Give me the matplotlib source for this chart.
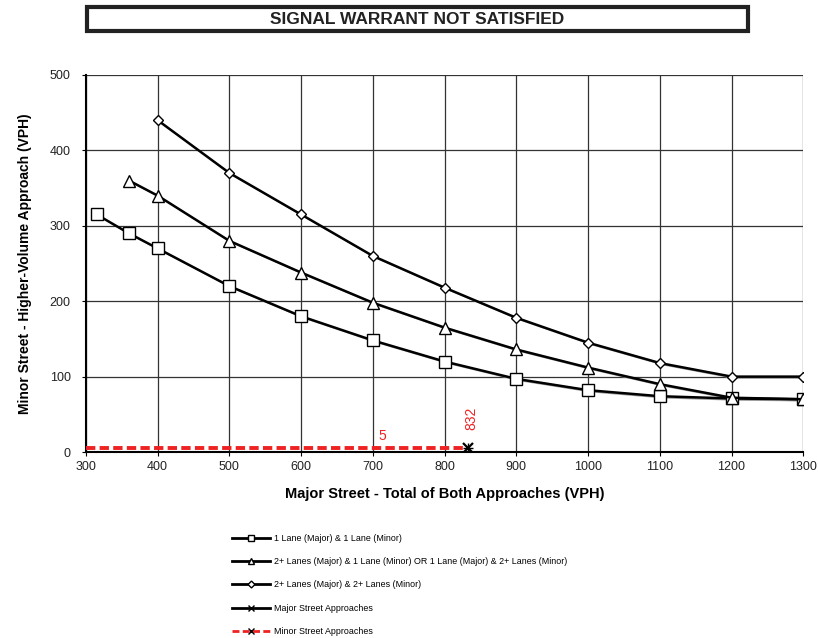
import matplotlib
matplotlib.use("Agg")
import matplotlib.pyplot as plt
from matplotlib.patches import Rectangle
from matplotlib.lines import Line2D

plt.rcParams["font.family"] = ["Liberation Sans", "DejaVu Sans"]

# Warrant curves (major street total vs minor street higher-volume approach)
one_one_x = [315, 360, 400, 500, 600, 700, 800, 900, 1000, 1100, 1200, 1300]
one_one_y = [315, 290, 270, 220, 180, 148, 120, 97, 82, 74, 71, 70]

two_one_x = [360, 400, 500, 600, 700, 800, 900, 1000, 1100, 1200, 1300]
two_one_y = [360, 340, 280, 238, 198, 165, 136, 112, 90, 72, 70]

two_two_x = [400, 500, 600, 700, 800, 900, 1000, 1100, 1200, 1300]
two_two_y = [440, 370, 315, 260, 218, 178, 145, 118, 100, 100]

# Observed approach volumes
major_vph = 832
minor_vph = 5
minor_line_x = [300, 832]
minor_line_y = [5, 5]

labels = [
    "1 Lane (Major) & 1 Lane (Minor)",
    "2+ Lanes (Major) & 1 Lane (Minor) OR 1 Lane (Major) & 2+ Lanes (Minor)",
    "2+ Lanes (Major) & 2+ Lanes (Minor)",
    "Major Street Approaches",
    "Minor Street Approaches",
]

fig = plt.figure(figsize=(8.18, 6.38), dpi=100)
ax = fig.add_axes([0.105, 0.2915, 0.877, 0.591])

curves = [
    (one_one_x, one_one_y, "s", 8),
    (two_one_x, two_one_y, "^", 8),
    (two_two_x, two_two_y, "D", 5.5),
]
for xs, ys, mk, ms in curves:
    # light shadow line to mimic the doubled Excel stroke
    ax.plot([x + 3 for x in xs], [y - 2 for y in ys], color="#9a9a9a", lw=1.0, zorder=2)
    ax.plot(xs, ys, color="black", lw=1.8, marker=mk, ms=ms,
            mfc="white", mec="black", mew=1.0, zorder=3)

ax.plot(minor_line_x, minor_line_y, color="#ee2222", lw=2.8, ls=(0, (2.4, 1.1)), zorder=4)
ax.plot([major_vph], [minor_vph], marker="x", color="black", ms=7, mew=1.6, zorder=5)
ax.plot([major_vph], [minor_vph], marker="+", color="black", ms=7, mew=1.0, zorder=5)

ax.text(713, 21, str(minor_vph), color="#ee2222", fontsize=10, ha="center", va="center")
ax.text(838, 45, str(major_vph), color="#ee2222", fontsize=10, ha="center", va="center",
        rotation=90)

ax.set_xlim(300, 1300)
ax.set_ylim(0, 500)
ax.set_xticks(range(300, 1301, 100))
ax.set_yticks(range(0, 501, 100))
ax.grid(True, color="#333333", lw=0.9)
ax.set_axisbelow(True)
for s in ["top", "right"]:
    ax.spines[s].set_visible(False)
for s in ["left", "bottom"]:
    ax.spines[s].set_linewidth(1.5)
ax.tick_params(axis="both", labelsize=9, length=3, colors="black", labelcolor="#222222")
ax.tick_params(axis="y", pad=8)
ax.set_xlabel("Major Street - Total of Both Approaches (VPH)", fontsize=10.5,
              fontweight="bold", labelpad=10)
ax.set_ylabel("Minor Street - Higher-Volume Approach (VPH)", fontsize=10,
              fontweight="bold", labelpad=13)

# title box
fig.patches.append(Rectangle((0.106, 0.951), 0.808, 0.038, transform=fig.transFigure,
                             fill=False, ec="#222222", lw=3))
fig.text(0.51, 0.970, "SIGNAL WARRANT NOT SATISFIED", ha="center", va="center",
         fontsize=12.5, fontweight="bold", color="#222222")

handles = [
    Line2D([], [], color="black", lw=2, marker="s", ms=5, mfc="white", mec="black"),
    Line2D([], [], color="black", lw=2, marker="^", ms=4, mfc="white", mec="black"),
    Line2D([], [], color="black", lw=2, marker="D", ms=3.5, mfc="white", mec="black"),
    Line2D([], [], color="black", lw=2, marker="x", ms=4, mec="black"),
    Line2D([], [], color="#ee2222", lw=2, ls=(0, (2.5, 1.2)), marker="x", ms=4, mec="black"),
]
fig.legend(handles, labels, loc="upper left", bbox_to_anchor=(0.284, 0.163),
           frameon=False, fontsize=6.4, handlelength=4.2, labelspacing=1.6,
           handletextpad=0.45, borderaxespad=0, borderpad=0)

fig.savefig("out.png", dpi=100)
